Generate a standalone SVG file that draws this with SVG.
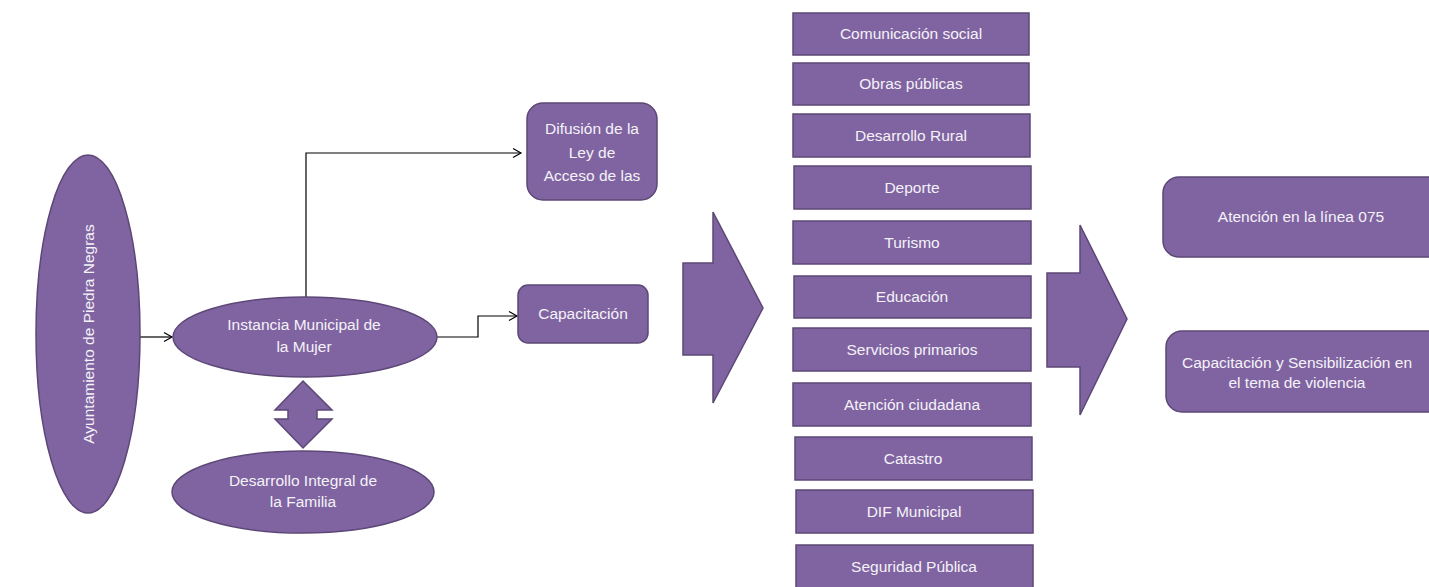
<svg xmlns="http://www.w3.org/2000/svg" width="1429" height="587" viewBox="0 0 1429 587">
<defs>
<style>
.s{fill:#8064A2;stroke:#5C4776;stroke-width:1.5}
.t{fill:#F4F2F7;font-family:"Liberation Sans",Arial,sans-serif;font-size:15.5px;text-anchor:middle}
.c{fill:none;stroke:#000;stroke-width:1.2}
</style>
<marker id="ah" markerWidth="12" markerHeight="12" refX="10" refY="6" orient="auto" markerUnits="userSpaceOnUse">
<path d="M2,1.5 L10,6 L2,10.5" fill="none" stroke="#000" stroke-width="1.2"/>
</marker>
</defs>
<rect width="1429" height="587" fill="#fff"/>
<g id="connectors">
<path class="c" d="M140,337 H172" marker-end="url(#ah)"/>
<path class="c" d="M306,297 V153 H521" marker-end="url(#ah)"/>
<path class="c" d="M437,337 H478 V316 H517" marker-end="url(#ah)"/>
</g>
<g id="ayuntamiento">
<ellipse class="s" cx="88" cy="334" rx="52" ry="179"/>
<text class="t" transform="translate(94,334) rotate(-90)">Ayuntamiento de Piedra Negras</text>
</g>
<g id="instancia">
<ellipse class="s" cx="305" cy="337" rx="132" ry="40"/>
<text class="t" x="304" y="330">Instancia Municipal de</text>
<text class="t" x="304" y="352">la Mujer</text>
</g>
<g id="doble-flecha">
<path class="s" d="M303,381 L332,410 L317,410 L317,419 L332,419 L303,448 L275,419 L288,419 L288,410 L275,410 Z"/>
</g>
<g id="dif">
<ellipse class="s" cx="303" cy="492" rx="131" ry="41"/>
<text class="t" x="303" y="486">Desarrollo Integral de</text>
<text class="t" x="303" y="507">la Familia</text>
</g>
<g id="difusion">
<rect class="s" x="527" y="103" width="130" height="97" rx="16"/>
<text class="t" x="592" y="134">Difusión de la</text>
<text class="t" x="592" y="158">Ley de</text>
<text class="t" x="592" y="181">Acceso de las</text>
</g>
<g id="capacitacion">
<rect class="s" x="518" y="285" width="130" height="58" rx="10"/>
<text class="t" x="583" y="319">Capacitación</text>
</g>
<g id="flecha1">
<path class="s" d="M683,263 L713,263 L713,212 L763,308 L713,403 L713,355 L683,355 Z"/>
</g>
<g id="comunicacion"><rect class="s" x="793" y="13" width="236" height="42"/><text class="t" x="911" y="39">Comunicación social</text></g>
<g id="obras"><rect class="s" x="793" y="63" width="236" height="42"/><text class="t" x="911" y="89">Obras públicas</text></g>
<g id="rural"><rect class="s" x="793" y="114" width="237" height="43"/><text class="t" x="911" y="141">Desarrollo Rural</text></g>
<g id="deporte"><rect class="s" x="794" y="166" width="237" height="43"/><text class="t" x="912" y="193">Deporte</text></g>
<g id="turismo"><rect class="s" x="793" y="221" width="238" height="43"/><text class="t" x="912" y="248">Turismo</text></g>
<g id="educacion"><rect class="s" x="794" y="276" width="237" height="42"/><text class="t" x="912" y="302">Educación</text></g>
<g id="servicios"><rect class="s" x="793" y="328" width="238" height="43"/><text class="t" x="912" y="355">Servicios primarios</text></g>
<g id="atencion-ciudadana"><rect class="s" x="793" y="383" width="238" height="43"/><text class="t" x="912" y="410">Atención ciudadana</text></g>
<g id="catastro"><rect class="s" x="795" y="437" width="237" height="43"/><text class="t" x="913" y="464">Catastro</text></g>
<g id="dif-municipal"><rect class="s" x="796" y="490" width="237" height="43"/><text class="t" x="914" y="517">DIF Municipal</text></g>
<g id="seguridad"><rect class="s" x="796" y="545" width="237" height="43"/><text class="t" x="914" y="572">Seguridad Pública</text></g>
<g id="flecha2">
<path class="s" d="M1047,273 L1080,273 L1080,225 L1127,319 L1080,415 L1080,367 L1047,367 Z"/>
</g>
<g id="linea075">
<rect class="s" x="1163" y="177" width="300" height="80" rx="16"/>
<text class="t" x="1301" y="222">Atención en la línea 075</text>
</g>
<g id="sensibilizacion">
<rect class="s" x="1166" y="331" width="300" height="81" rx="16"/>
<text class="t" x="1297" y="368">Capacitación y Sensibilización  en</text>
<text class="t" x="1297" y="388">el tema de violencia</text>
</g>
</svg>
